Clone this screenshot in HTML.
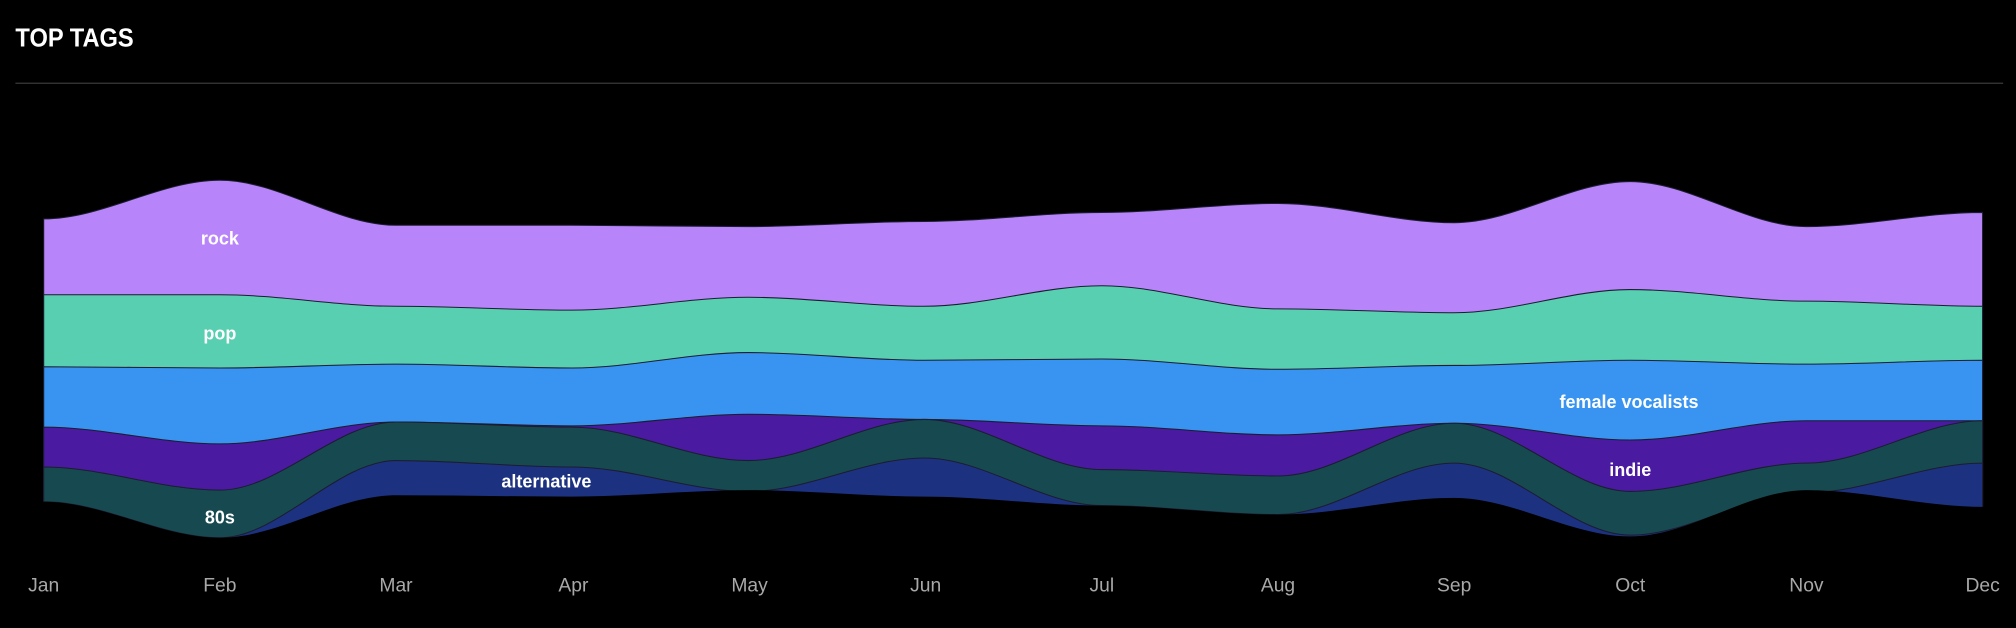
<!DOCTYPE html>
<html><head><meta charset="utf-8"><style>
html,body{margin:0;padding:0;background:#000;}
svg{display:block}
text{font-family:"Liberation Sans",sans-serif;}
</style></head><body>
<svg width="2016" height="628" viewBox="0 0 1568 488" xmlns="http://www.w3.org/2000/svg">
<rect width="1568" height="488" fill="#000"/>
<text x="12" y="36" fill="#fff" font-size="20" font-weight="bold" textLength="92" lengthAdjust="spacingAndGlyphs">TOP TAGS</text>
<line x1="12" y1="64.5" x2="1558" y2="64.5" stroke="#3a3a3a" stroke-width="1"/>
<g stroke="#1c1c30" stroke-width="0.8">
<path fill="#b884f9" d="M34,170 C80,170 125,140 171,140 C217,140 262,175 308,175 C354,175 399,175 445,175 C491,175 536,176 582,176 C628,176 673,172 719,172 C765,172 811,165 857,165 C903,165 948,158 994,158 C1040,158 1085,173 1131,173 C1177,173 1222,141 1268,141 C1314,141 1359,176 1405,176 C1451,176 1496,165 1542,165 L1542,430 L34,430 Z"/>
<path fill="#58cfb0" d="M34,229 C80,229 125,229 171,229 C217,229 262,238 308,238 C354,238 399,241 445,241 C491,241 536,231 582,231 C628,231 673,238 719,238 C765,238 811,222 857,222 C903,222 948,240 994,240 C1040,240 1085,243 1131,243 C1177,243 1222,225 1268,225 C1314,225 1359,234 1405,234 C1451,234 1496,238 1542,238 L1542,430 L34,430 Z"/>
<path fill="#3894f0" d="M34,285 C80,285 125,286 171,286 C217,286 262,283 308,283 C354,283 399,286 445,286 C491,286 536,274 582,274 C628,274 673,280 719,280 C765,280 811,279 857,279 C903,279 948,287 994,287 C1040,287 1085,284 1131,284 C1177,284 1222,280 1268,280 C1314,280 1359,283 1405,283 C1451,283 1496,280 1542,280 L1542,430 L34,430 Z"/>
<path fill="#4a1aa0" d="M34,332 C80,332 125,345 171,345 C217,345 262,328 308,328 C354,328 399,331 445,331 C491,331 536,322 582,322 C628,322 673,326 719,326 C765,326 811,331 857,331 C903,331 948,338 994,338 C1040,338 1085,329 1131,329 C1177,329 1222,342 1268,342 C1314,342 1359,327 1405,327 C1451,327 1496,327 1542,327 L1542,430 L34,430 Z"/>
<path fill="#174a50" d="M34,363 C80,363 125,381 171,381 C217,381 262,328 308,328 C354,328 399,332 445,332 C491,332 536,358 582,358 C628,358 673,326 719,326 C765,326 811,365 857,365 C903,365 948,370 994,370 C1040,370 1085,329 1131,329 C1177,329 1222,382 1268,382 C1314,382 1359,360 1405,360 C1451,360 1496,327 1542,327 L1542,430 L34,430 Z"/>
<path fill="#1c3280" d="M34,390 C80,390 125,418 171,418 C217,418 262,358 308,358 C354,358 399,363 445,363 C491,363 536,382 582,382 C628,382 673,356 719,356 C765,356 811,393 857,393 C903,393 948,400 994,400 C1040,400 1085,360 1131,360 C1177,360 1222,416 1268,416 C1314,416 1359,383 1405,383 C1451,383 1496,360 1542,360 L1542,430 L34,430 Z"/>
</g>
<path fill="#000" stroke="none" d="M34,390 C80,390 125,418 171,418 C217,418 262,385 308,385 C354,385 399,386 445,386 C491,386 536,381 582,381 C628,381 673,386 719,386 C765,386 811,393 857,393 C903,393 948,400 994,400 C1040,400 1085,387 1131,387 C1177,387 1222,417 1268,417 C1314,417 1359,381 1405,381 C1451,381 1496,394 1542,394 L1545,394 L1545,440 L30,440 L30,390 Z"/>
<g fill="#fff" font-size="14" font-weight="bold" text-anchor="middle">
<text x="171" y="190">rock</text>
<text x="171" y="264">pop</text>
<text x="1267" y="317">female vocalists</text>
<text x="1268" y="370">indie</text>
<text x="425" y="379">alternative</text>
<text x="171" y="407">80s</text>
</g>
<g fill="#a8a8a8" font-size="15" text-anchor="middle">
<text x="34" y="460">Jan</text><text x="171" y="460">Feb</text><text x="308" y="460">Mar</text>
<text x="446" y="460">Apr</text><text x="583" y="460">May</text><text x="720" y="460">Jun</text>
<text x="857" y="460">Jul</text><text x="994" y="460">Aug</text><text x="1131" y="460">Sep</text>
<text x="1268" y="460">Oct</text><text x="1405" y="460">Nov</text><text x="1542" y="460">Dec</text>
</g>
</svg>
</body></html>
